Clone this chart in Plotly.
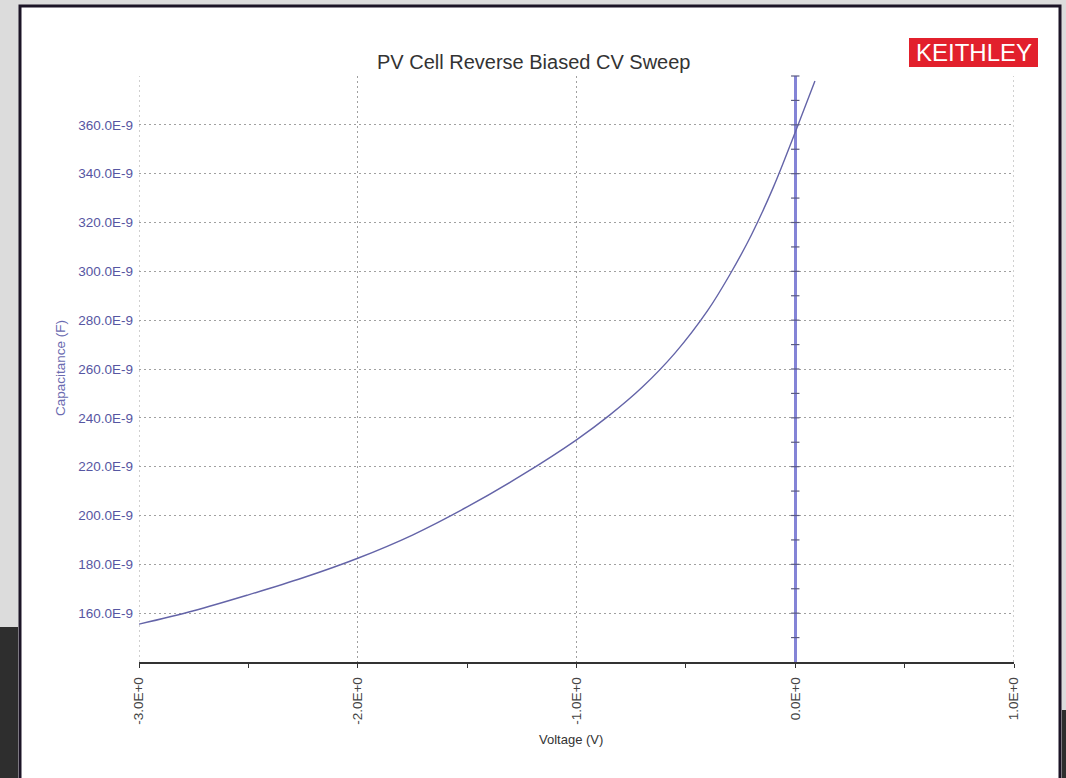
import plotly.graph_objects as go

# ---- data ----
voltage = [-3.0, -2.75, -2.5, -2.25, -2.0, -1.75, -1.5, -1.25, -1.0, -0.85,
           -0.7, -0.55, -0.4, -0.3, -0.2, -0.1, 0.0, 0.09]
capacitance_nF = [155.5, 161.0, 167.5, 174.5, 182.5, 192.0, 203.5, 216.5, 231.0, 241.0,
                  252.5, 266.5, 284.0, 298.5, 315.0, 334.5, 357.0, 378.0]

x_tickvals = [-3, -2, -1, 0, 1]
x_ticktext = ["-3.0E+0", "-2.0E+0", "-1.0E+0", "0.0E+0", "1.0E+0"]
y_tickvals_nF = [160, 180, 200, 220, 240, 260, 280, 300, 320, 340, 360]
y_ticktext = ["160.0E-9", "180.0E-9", "200.0E-9", "220.0E-9", "240.0E-9", "260.0E-9",
              "280.0E-9", "300.0E-9", "320.0E-9", "340.0E-9", "360.0E-9"]
zero_axis_ticks_nF = [150, 160, 170, 180, 190, 200, 210, 220, 230, 240, 250, 260,
                      270, 280, 290, 300, 310, 320, 330, 340, 350, 360, 370, 380]

x_range = [-3, 1]
y_range_nF = [140, 380]

# ---- layout geometry (pixels) ----
W, H = 1066, 778
L, R, T, B = 139, 52, 76, 116
PW, PH = W - L - R, H - T - B


def px(x):
    return (x - L) / PW


def py(y):
    return (H - B - y) / PH


FONT = "Liberation Sans, Arial, sans-serif"
GRID = "#a0a0a0"
GRIDDASH = "2px,3px"

fig = go.Figure()

fig.add_trace(go.Scatter(
    x=voltage, y=[c * 1e-9 for c in capacitance_nF],
    mode="lines", line=dict(color="#6464a8", width=1.4, shape="spline", smoothing=1.0),
    hoverinfo="x+y", showlegend=False,
))

# small tick marks on the vertical zero line
fig.add_trace(go.Scatter(
    x=[0] * len(zero_axis_ticks_nF), y=[v * 1e-9 for v in zero_axis_ticks_nF],
    mode="markers", marker=dict(symbol="line-ew", size=6, line=dict(color="#5a5a80", width=1.2)),
    cliponaxis=False, hoverinfo="skip", showlegend=False,
))

shapes = [
    # white panel with dark frame
    dict(type="rect", xref="paper", yref="paper", x0=px(20), x1=px(1060), y0=py(800), y1=py(6),
         fillcolor="white", line=dict(color="#1c1426", width=3), layer="below"),
    # dark corner regions of the background photo
    dict(type="rect", xref="paper", yref="paper", x0=px(0), x1=px(18), y0=py(778), y1=py(627),
         fillcolor="#2e2e2e", line=dict(width=0), layer="below"),
    dict(type="rect", xref="paper", yref="paper", x0=px(1062), x1=px(1066), y0=py(778), y1=py(710),
         fillcolor="#2e2e2e", line=dict(width=0), layer="below"),
    # dotted edge grid lines at both ends of the x range
    dict(type="line", xref="x", yref="paper", x0=x_range[0], x1=x_range[0], y0=0, y1=1,
         line=dict(color=GRID, width=1, dash=GRIDDASH), layer="below"),
    dict(type="line", xref="x", yref="paper", x0=x_range[1], x1=x_range[1], y0=0, y1=1,
         line=dict(color=GRID, width=1, dash=GRIDDASH), layer="below"),
    # KEITHLEY logo box
    dict(type="rect", xref="paper", yref="paper", x0=px(909), x1=px(1038), y0=py(67), y1=py(38),
         fillcolor="#e2202c", line=dict(width=0), layer="above"),
]

annotations = [
    dict(text="PV Cell Reverse Biased CV Sweep", x=px(533), y=py(62), xref="paper", yref="paper",
         showarrow=False, xanchor="center", yanchor="middle",
         font=dict(family=FONT, size=20, color="#333333")),
    dict(text="KEITHLEY", x=px(974), y=py(53), xref="paper", yref="paper",
         showarrow=False, xanchor="center", yanchor="middle",
         font=dict(family=FONT, size=24, color="white")),
    dict(text="Capacitance (F)", x=px(60), y=py(368), xref="paper", yref="paper",
         showarrow=False, textangle=-90, xanchor="center", yanchor="middle",
         font=dict(family=FONT, size=13.5, color="#6a6ab0")),
    dict(text="Voltage (V)", x=px(571), y=py(739), xref="paper", yref="paper",
         showarrow=False, xanchor="center", yanchor="middle",
         font=dict(family=FONT, size=13, color="#333333")),
]

fig.update_layout(
    width=W, height=H, autosize=False,
    margin=dict(l=L, r=R, t=T, b=B, pad=0),
    template="none",
    paper_bgcolor="#dcdcdc",
    plot_bgcolor="rgba(0,0,0,0)",
    shapes=shapes,
    annotations=annotations,
    showlegend=False,
    xaxis=dict(
        range=x_range, tickvals=x_tickvals, ticktext=x_ticktext, tickangle=-90,
        tickfont=dict(family=FONT, size=13.5, color="#444444"),
        showgrid=True, gridcolor=GRID, griddash=GRIDDASH, gridwidth=1,
        zeroline=True, zerolinecolor="#8484d6", zerolinewidth=2.5,
        showline=True, linecolor="#333333", linewidth=1.5,
        ticks="outside", ticklen=4, tickcolor="#333333", tickwidth=1.2,
        minor=dict(dtick=0.5, tick0=-3, ticks="outside", ticklen=4, tickcolor="#333333",
                   tickwidth=1.2, showgrid=False),
        ticklabelstandoff=4,
        automargin=False, fixedrange=True,
    ),
    yaxis=dict(
        range=[v * 1e-9 for v in y_range_nF],
        tickvals=[v * 1e-9 for v in y_tickvals_nF], ticktext=y_ticktext,
        tickfont=dict(family=FONT, size=13.5, color="#5656a2"),
        showgrid=True, gridcolor=GRID, griddash=GRIDDASH, gridwidth=1,
        zeroline=False, showline=False, ticks="",
        ticklabelstandoff=5,
        automargin=False, fixedrange=True,
    ),
)

fig.write_html("out.html", config={"displayModeBar": False},
               post_script="document.body.style.margin='0';")
